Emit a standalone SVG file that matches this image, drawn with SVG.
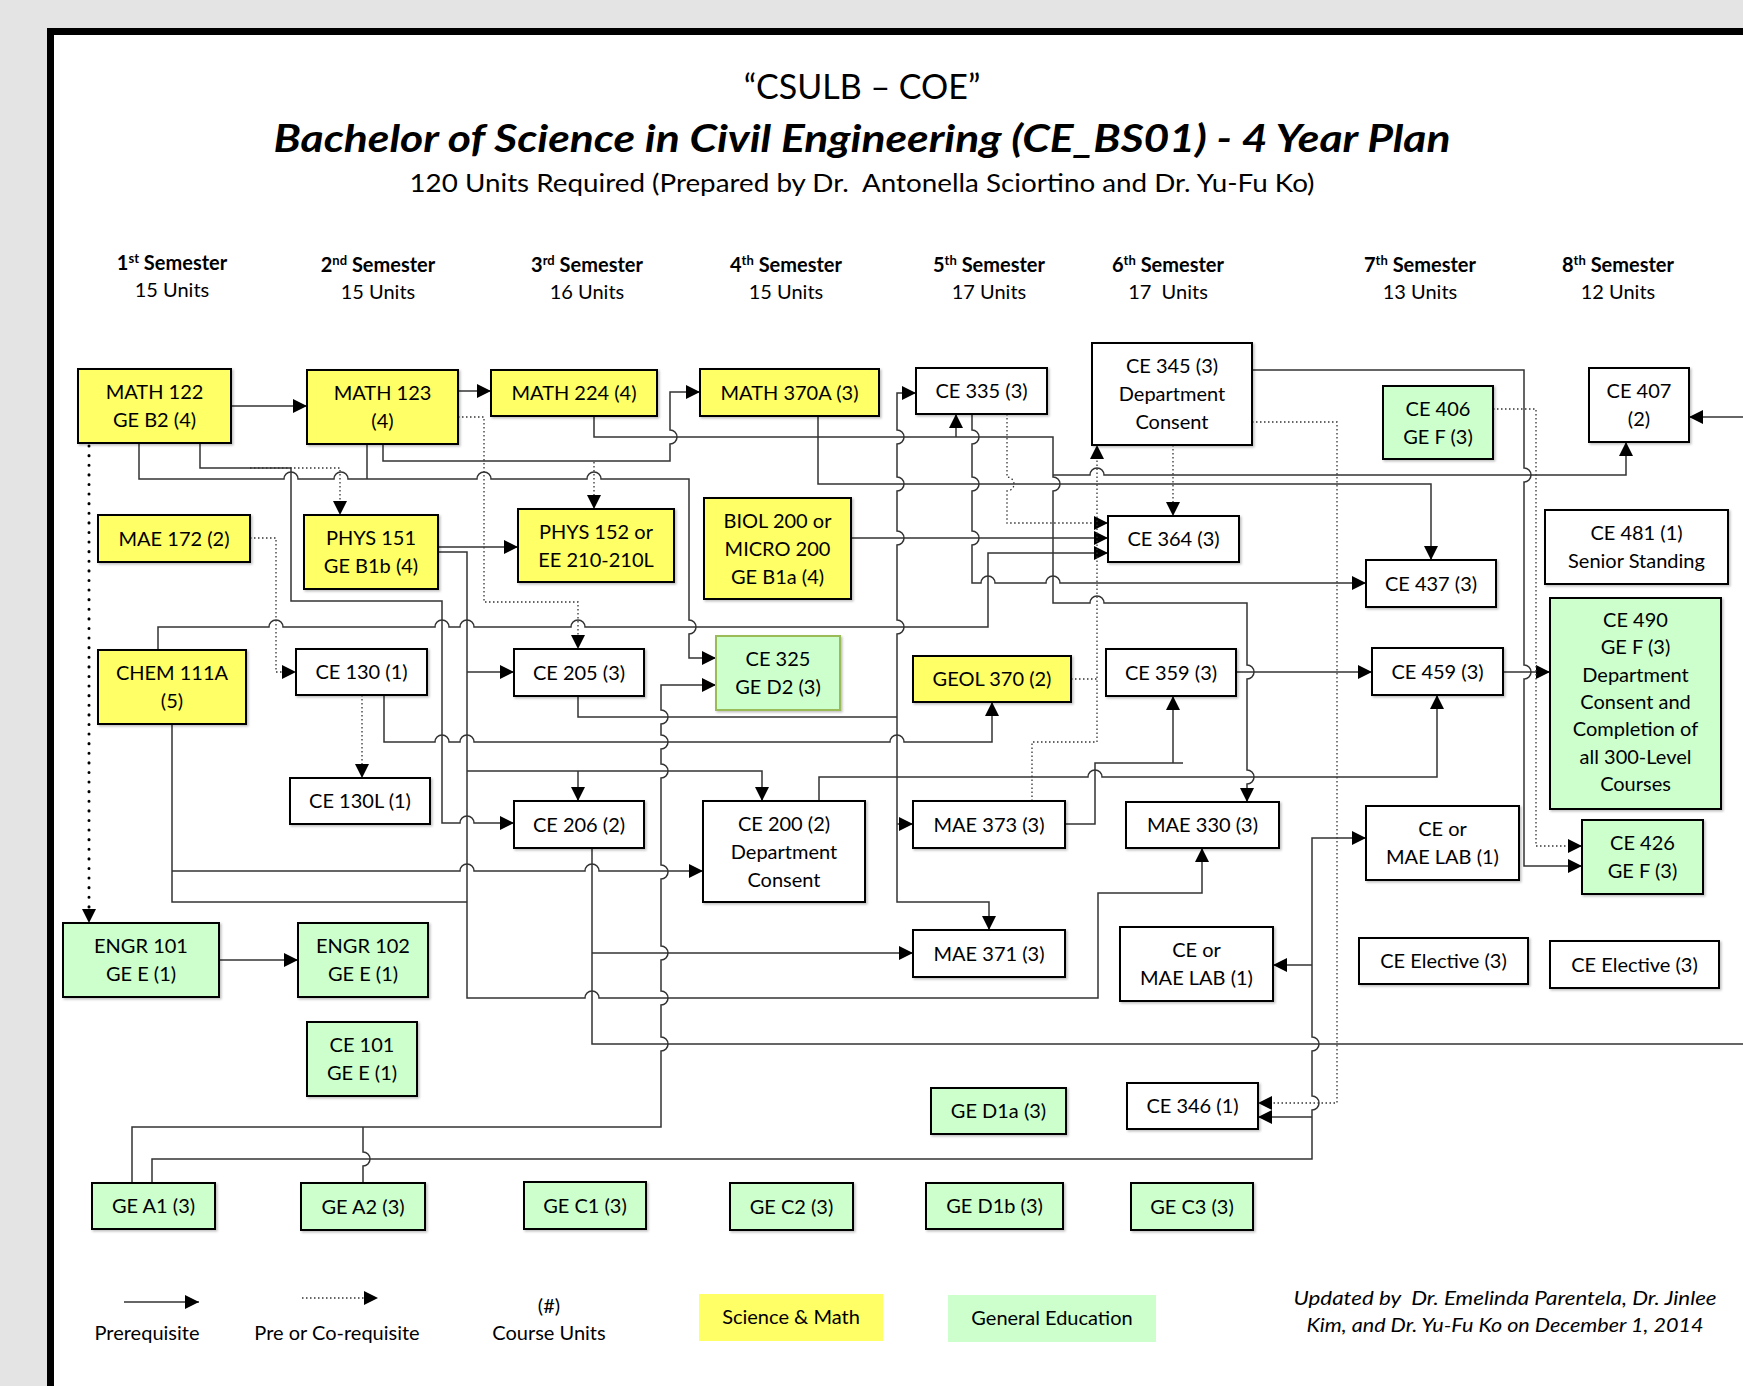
<svg xmlns="http://www.w3.org/2000/svg" width="1743" height="1386" viewBox="0 0 1743 1386">
<style>
.bg{fill:#e4e4e4}
.n rect{stroke:#000;stroke-width:2;filter:url(#sh)}
.y{fill:#ffff66}.g{fill:#ccffcc}.w{fill:#fff}
text{font-family:Lato,"Open Sans","DejaVu Sans",sans-serif;fill:#000}
.t{font-size:20px;text-anchor:middle}
.c{fill:none;stroke:#333;stroke-width:1.5}
.d{fill:none;stroke:#333;stroke-width:1.3;stroke-dasharray:1.5 2.5}
.hd{fill:none;stroke:#000;stroke-width:3;stroke-dasharray:0.1 9.5;stroke-linecap:round}
</style>
<defs>
<marker id="a" markerUnits="userSpaceOnUse" markerWidth="14" markerHeight="14" refX="14" refY="7" orient="auto"><path d="M0,0 L14,7 L0,14 z" fill="#000"/></marker>
<filter id="sh" x="-10%" y="-10%" width="130%" height="130%"><feDropShadow dx="1.5" dy="1.5" stdDeviation="1.2" flood-color="#000" flood-opacity="0.25"/></filter>
</defs>
<rect width="1743" height="1386" fill="#fff"/>
<rect class="bg" x="0" y="0" width="1743" height="28"/>
<rect class="bg" x="0" y="0" width="47" height="1386"/>
<rect x="47" y="28" width="1696" height="7" fill="#000"/>
<rect x="47" y="28" width="7" height="1358" fill="#000"/>

<g id="header">
<text x="862" y="99" font-size="34" text-anchor="middle">“CSULB – COE”</text>
<text x="862" y="152" font-size="38" font-weight="bold" font-style="italic" text-anchor="middle" textLength="1177" lengthAdjust="spacingAndGlyphs">Bachelor of Science in Civil Engineering (CE_BS01) - 4 Year Plan</text>
<text x="862" y="192" font-size="25" text-anchor="middle" xml:space="preserve" textLength="905" lengthAdjust="spacingAndGlyphs">120 Units Required (Prepared by Dr.  Antonella Sciortino and Dr. Yu-Fu Ko)</text>
</g>
<g id="semesters" class="t">
<text x="172" y="270" font-weight="bold" text-anchor="middle">1<tspan font-size="13" dy="-7">st</tspan><tspan dy="7"> Semester</tspan></text>
<text x="172" y="297" text-anchor="middle">15 Units</text>
<text x="378" y="272" font-weight="bold" text-anchor="middle">2<tspan font-size="13" dy="-7">nd</tspan><tspan dy="7"> Semester</tspan></text>
<text x="378" y="299" text-anchor="middle">15 Units</text>
<text x="587" y="272" font-weight="bold" text-anchor="middle">3<tspan font-size="13" dy="-7">rd</tspan><tspan dy="7"> Semester</tspan></text>
<text x="587" y="299" text-anchor="middle">16 Units</text>
<text x="786" y="272" font-weight="bold" text-anchor="middle">4<tspan font-size="13" dy="-7">th</tspan><tspan dy="7"> Semester</tspan></text>
<text x="786" y="299" text-anchor="middle">15 Units</text>
<text x="989" y="272" font-weight="bold" text-anchor="middle">5<tspan font-size="13" dy="-7">th</tspan><tspan dy="7"> Semester</tspan></text>
<text x="989" y="299" text-anchor="middle">17 Units</text>
<text x="1168" y="272" font-weight="bold" text-anchor="middle">6<tspan font-size="13" dy="-7">th</tspan><tspan dy="7"> Semester</tspan></text>
<text x="1168" y="299" text-anchor="middle" xml:space="preserve">17  Units</text>
<text x="1420" y="272" font-weight="bold" text-anchor="middle">7<tspan font-size="13" dy="-7">th</tspan><tspan dy="7"> Semester</tspan></text>
<text x="1420" y="299" text-anchor="middle">13 Units</text>
<text x="1618" y="272" font-weight="bold" text-anchor="middle">8<tspan font-size="13" dy="-7">th</tspan><tspan dy="7"> Semester</tspan></text>
<text x="1618" y="299" text-anchor="middle">12 Units</text>
</g>

<g id="connectors">
<path class="c" marker-end="url(#a)" d="M231,406 H307"/>
<path class="hd" d="M89,446 V910"/>
<path d="M82,909 L96,909 L89,923 z" fill="#000"/>
<path class="c" marker-end="url(#a)" d="M139,443 V479 H284 A7 7 0 0 1 298,479 H334 A7 7 0 0 1 348,479 H477 A7 7 0 0 1 491,479 H587 A7 7 0 0 1 601,479 H689 V620 A7 7 0 0 1 689,634 V658 H716"/>
<path class="c" d="M367,444 V479"/>
<path class="c" marker-end="url(#a)" d="M200,443 V468 H291 V601 H442 V823 H460 A7 7 0 0 1 474,823 H514"/>
<path class="d" marker-end="url(#a)" d="M250,468 H340 V515"/>
<path class="c" marker-end="url(#a)" d="M383,444 V461 H670 V444 A7 7 0 0 0 670,430 V392 H700"/>
<path class="c" marker-end="url(#a)" d="M458,391 H491"/>
<path class="d" marker-end="url(#a)" d="M458,417 H484 V602 H578 V649"/>
<path class="d" marker-end="url(#a)" d="M594,462 V509"/>
<path class="c" marker-end="url(#a)" d="M594,416 V437 H1053 V477 A7 7 0 0 1 1053,491 V603 H1090 A7 7 0 0 1 1104,603 H1247 V665 A7 7 0 0 1 1247,679 V770 A7 7 0 0 1 1247,784 V802"/>
<path class="c" marker-end="url(#a)" d="M956,437 V414"/>
<path class="c" marker-end="url(#a)" d="M1053,475 H1090 A7 7 0 0 1 1104,475 H1626 V442"/>
<path class="c" marker-end="url(#a)" d="M818,416 V484 H1431 V560"/>
<path class="c" marker-end="url(#a)" d="M438,547 H518"/>
<path class="c" marker-end="url(#a)" d="M438,552 H467 V998 H585 A7 7 0 0 1 599,998 H1098 V893 H1202 V848"/>
<path class="c" marker-end="url(#a)" d="M467,672 H514"/>
<path class="c" marker-end="url(#a)" d="M467,771 H762 V801"/>
<path class="c" marker-end="url(#a)" d="M578,771 V801"/>
<path class="d" marker-end="url(#a)" d="M250,538 H276 V672 H296"/>
<path class="c" marker-end="url(#a)" d="M158,650 V627 H269 A7 7 0 0 1 283,627 H435 A7 7 0 0 1 449,627 H460 A7 7 0 0 1 474,627 H571 A7 7 0 0 1 585,627 H988 V553 H1108"/>
<path class="d" marker-end="url(#a)" d="M362,695 V778"/>
<path class="c" marker-end="url(#a)" d="M384,695 V742 H435 A7 7 0 0 1 449,742 H460 A7 7 0 0 1 474,742 H890 A7 7 0 0 1 904,742 H992 V702"/>
<path class="c" d="M578,696 V717 H897"/>
<path class="c" marker-end="url(#a)" d="M897,717 V634 A7 7 0 0 0 897,620 V545 A7 7 0 0 0 897,531 V491 A7 7 0 0 0 897,477 V444 A7 7 0 0 0 897,430 V393 H916"/>
<path class="c" marker-end="url(#a)" d="M897,717 V902 H989 V930"/>
<path class="c" marker-end="url(#a)" d="M897,824 H913"/>
<path class="c" marker-end="url(#a)" d="M972,414 V430 A7 7 0 0 1 972,444 V477 A7 7 0 0 1 972,491 V531 A7 7 0 0 1 972,545 V583 H981 A7 7 0 0 1 995,583 H1046 A7 7 0 0 1 1060,583 H1366"/>
<path class="d" marker-end="url(#a)" d="M1007,414 V477 A7 7 0 0 1 1007,491 V523 H1108"/>
<path class="d" marker-end="url(#a)" d="M1173,445 V516"/>
<path class="c" marker-end="url(#a)" d="M851,538 H1108"/>
<path class="d" marker-end="url(#a)" d="M1032,801 V742 H1097 V445"/>
<path class="d" d="M1071,679 H1097"/>
<path class="c" d="M1065,824 H1095 V763 H1183"/>
<path class="c" marker-end="url(#a)" d="M1173,763 V696"/>
<path class="c" marker-end="url(#a)" d="M819,801 V777 H1088 A7 7 0 0 1 1102,777 H1437 V695"/>
<path class="c" marker-end="url(#a)" d="M1236,672 H1372"/>
<path class="c" marker-end="url(#a)" d="M1503,672 H1550"/>
<path class="c" marker-end="url(#a)" d="M1252,370 H1524 V468 A7 7 0 0 1 1524,482 V665 A7 7 0 0 1 1524,679 V866 H1582"/>
<path class="d" marker-end="url(#a)" d="M1252,422 H1337 V1103 H1258"/>
<path class="d" marker-end="url(#a)" d="M1493,409 H1536 V846 H1582"/>
<path class="c" marker-end="url(#a)" d="M1743,417 H1689"/>
<path class="c" d="M172,724 V902 H467"/>
<path class="c" marker-end="url(#a)" d="M172,871 H460 A7 7 0 0 1 474,871 H585 A7 7 0 0 1 599,871 H703"/>
<path class="c" d="M592,848 V1044 H1743"/>
<path class="c" marker-end="url(#a)" d="M592,953 H913"/>
<path class="c" marker-end="url(#a)" d="M132,1183 V1127 H661 V1051 A7 7 0 0 0 661,1037 V1005 A7 7 0 0 0 661,991 V960 A7 7 0 0 0 661,946 V879 A7 7 0 0 0 661,865 V778 A7 7 0 0 0 661,764 V749 A7 7 0 0 0 661,735 V724 A7 7 0 0 0 661,710 V685 H716"/>
<path class="c" d="M363,1183 V1166 A7 7 0 0 0 363,1152 V1127"/>
<path class="c" marker-end="url(#a)" d="M152,1183 V1159 H1312 V1110 A7 7 0 0 0 1312,1096 V1051 A7 7 0 0 0 1312,1037 V838 H1366"/>
<path class="c" marker-end="url(#a)" d="M1312,965 H1273"/>
<path class="c" marker-end="url(#a)" d="M1312,1117 H1258"/>
<path class="c" marker-end="url(#a)" d="M219,960 H298"/>
</g>

<g class="n t">
<g id="math122"><rect class="y" x="78" y="369" width="153" height="74"/><text x="154.5" y="399">MATH 122</text><text x="154.5" y="427">GE B2 (4)</text></g>
<g id="math123"><rect class="y" x="307" y="370" width="151" height="74"/><text x="382.5" y="400">MATH 123</text><text x="382.5" y="428">(4)</text></g>
<g id="math224"><rect class="y" x="491" y="370" width="166" height="46"/><text x="574" y="400">MATH 224 (4)</text></g>
<g id="math370a"><rect class="y" x="700" y="369" width="179" height="47"/><text x="789.5" y="399.5">MATH 370A (3)</text></g>
<g id="ce335"><rect class="w" x="916" y="368" width="131" height="46"/><text x="981.5" y="398">CE 335 (3)</text></g>
<g id="ce345"><rect class="w" x="1092" y="343" width="160" height="102"/><text x="1172" y="373">CE 345 (3)</text><text x="1172" y="401">Department</text><text x="1172" y="429">Consent</text></g>
<g id="ce406"><rect class="g" x="1383" y="386" width="110" height="73"/><text x="1438" y="415.5">CE 406</text><text x="1438" y="443.5">GE F (3)</text></g>
<g id="ce407"><rect class="w" x="1589" y="368" width="100" height="74"/><text x="1639" y="398">CE 407</text><text x="1639" y="426">(2)</text></g>
<g id="mae172"><rect class="y" x="98" y="515" width="152" height="47"/><text x="174" y="545.5">MAE 172 (2)</text></g>
<g id="phys151"><rect class="y" x="304" y="515" width="134" height="74"/><text x="371" y="545">PHYS 151</text><text x="371" y="573">GE B1b (4)</text></g>
<g id="phys152"><rect class="y" x="518" y="509" width="156" height="73"/><text x="596" y="538.5">PHYS 152 or</text><text x="596" y="566.5">EE 210-210L</text></g>
<g id="biol200"><rect class="y" x="704" y="498" width="147" height="101"/><text x="777.5" y="527.5">BIOL 200 or</text><text x="777.5" y="555.5">MICRO 200</text><text x="777.5" y="583.5">GE B1a (4)</text></g>
<g id="ce364"><rect class="w" x="1108" y="516" width="131" height="46"/><text x="1173.5" y="546">CE 364 (3)</text></g>
<g id="ce437"><rect class="w" x="1366" y="560" width="130" height="47"/><text x="1431" y="590.5">CE 437 (3)</text></g>
<g id="ce481"><rect class="w" x="1545" y="510" width="183" height="74"/><text x="1636.5" y="540">CE 481 (1)</text><text x="1636.5" y="568">Senior Standing</text></g>
<g id="ce490"><rect class="g" x="1550" y="598" width="171" height="211"/><text x="1635.5" y="627">CE 490</text><text x="1635.5" y="654">GE F (3)</text><text x="1635.5" y="682">Department</text><text x="1635.5" y="709">Consent and</text><text x="1635.5" y="736">Completion of</text><text x="1635.5" y="764">all 300-Level</text><text x="1635.5" y="791">Courses</text></g>
<g id="chem111a"><rect class="y" x="98" y="650" width="148" height="74"/><text x="172" y="680">CHEM 111A</text><text x="172" y="708">(5)</text></g>
<g id="ce130"><rect class="w" x="296" y="649" width="131" height="46"/><text x="361.5" y="679">CE 130 (1)</text></g>
<g id="ce205"><rect class="w" x="514" y="649" width="130" height="47"/><text x="579" y="679.5">CE 205 (3)</text></g>
<g id="ce325"><rect class="g" x="716" y="636" width="124" height="74" style="stroke:#9bbb59"/><text x="778" y="666">CE 325</text><text x="778" y="694">GE D2 (3)</text></g>
<g id="geol370"><rect class="y" x="913" y="656" width="158" height="46"/><text x="992" y="686">GEOL 370 (2)</text></g>
<g id="ce359"><rect class="w" x="1106" y="649" width="130" height="47"/><text x="1171" y="679.5">CE 359 (3)</text></g>
<g id="ce459"><rect class="w" x="1372" y="648" width="131" height="47"/><text x="1437.5" y="678.5">CE 459 (3)</text></g>
<g id="ce130l"><rect class="w" x="290" y="778" width="140" height="46"/><text x="360" y="808">CE 130L (1)</text></g>
<g id="ce206"><rect class="w" x="514" y="801" width="130" height="47"/><text x="579" y="831.5">CE 206 (2)</text></g>
<g id="ce200"><rect class="w" x="703" y="801" width="162" height="101"/><text x="784" y="830.5">CE 200 (2)</text><text x="784" y="858.5">Department</text><text x="784" y="886.5">Consent</text></g>
<g id="mae373"><rect class="w" x="913" y="801" width="152" height="47"/><text x="989" y="831.5">MAE 373 (3)</text></g>
<g id="mae330"><rect class="w" x="1126" y="802" width="153" height="46"/><text x="1202.5" y="832">MAE 330 (3)</text></g>
<g id="lab2"><rect class="w" x="1366" y="806" width="153" height="74"/><text x="1442.5" y="836">CE or</text><text x="1442.5" y="864">MAE LAB (1)</text></g>
<g id="ce426"><rect class="g" x="1582" y="820" width="121" height="74"/><text x="1642.5" y="850">CE 426</text><text x="1642.5" y="878">GE F (3)</text></g>
<g id="engr101"><rect class="g" x="63" y="923" width="156" height="74"/><text x="141" y="953">ENGR 101</text><text x="141" y="981">GE E (1)</text></g>
<g id="engr102"><rect class="g" x="298" y="923" width="130" height="74"/><text x="363" y="953">ENGR 102</text><text x="363" y="981">GE E (1)</text></g>
<g id="mae371"><rect class="w" x="913" y="930" width="152" height="47"/><text x="989" y="960.5">MAE 371 (3)</text></g>
<g id="lab1"><rect class="w" x="1120" y="927" width="153" height="74"/><text x="1196.5" y="957">CE or</text><text x="1196.5" y="985">MAE LAB (1)</text></g>
<g id="elective1"><rect class="w" x="1359" y="938" width="169" height="46"/><text x="1443.5" y="968">CE Elective (3)</text></g>
<g id="elective2"><rect class="w" x="1550" y="941" width="169" height="47"/><text x="1634.5" y="971.5">CE Elective (3)</text></g>
<g id="ce101"><rect class="g" x="307" y="1022" width="110" height="74"/><text x="362" y="1052">CE 101</text><text x="362" y="1080">GE E (1)</text></g>
<g id="ged1a"><rect class="g" x="931" y="1088" width="135" height="46"/><text x="998.5" y="1118">GE D1a (3)</text></g>
<g id="ce346"><rect class="w" x="1127" y="1083" width="131" height="46"/><text x="1192.5" y="1113">CE 346 (1)</text></g>
<g id="gea1"><rect class="g" x="92" y="1183" width="123" height="46"/><text x="153.5" y="1213">GE A1 (3)</text></g>
<g id="gea2"><rect class="g" x="301" y="1183" width="124" height="47"/><text x="363" y="1213.5">GE A2 (3)</text></g>
<g id="gec1"><rect class="g" x="524" y="1182" width="122" height="47"/><text x="585" y="1212.5">GE C1 (3)</text></g>
<g id="gec2"><rect class="g" x="730" y="1183" width="123" height="47"/><text x="791.5" y="1213.5">GE C2 (3)</text></g>
<g id="ged1b"><rect class="g" x="926" y="1183" width="137" height="46"/><text x="994.5" y="1213">GE D1b (3)</text></g>
<g id="gec3"><rect class="g" x="1131" y="1183" width="122" height="47"/><text x="1192" y="1213.5">GE C3 (3)</text></g>
</g>

<g id="legend" class="t">
<path class="c" marker-end="url(#a)" d="M124,1302 H199"/>
<text x="147" y="1340">Prerequisite</text>
<path class="d" marker-end="url(#a)" d="M302,1298 H378"/>
<text x="337" y="1340">Pre or Co-requisite</text>
<text x="549" y="1313">(#)</text>
<text x="549" y="1340">Course Units</text>
<rect class="y" x="699" y="1294" width="184" height="47"/>
<text x="791" y="1324">Science &amp; Math</text>
<rect class="g" x="948" y="1295" width="208" height="47"/>
<text x="1052" y="1325">General Education</text>
<text x="1505" y="1305" font-style="italic" xml:space="preserve" textLength="423" lengthAdjust="spacingAndGlyphs">Updated by  Dr. Emelinda Parentela, Dr. Jinlee</text>
<text x="1505" y="1332" font-style="italic" textLength="397" lengthAdjust="spacingAndGlyphs">Kim, and Dr. Yu-Fu Ko on December 1, 2014</text>
</g>
</svg>
